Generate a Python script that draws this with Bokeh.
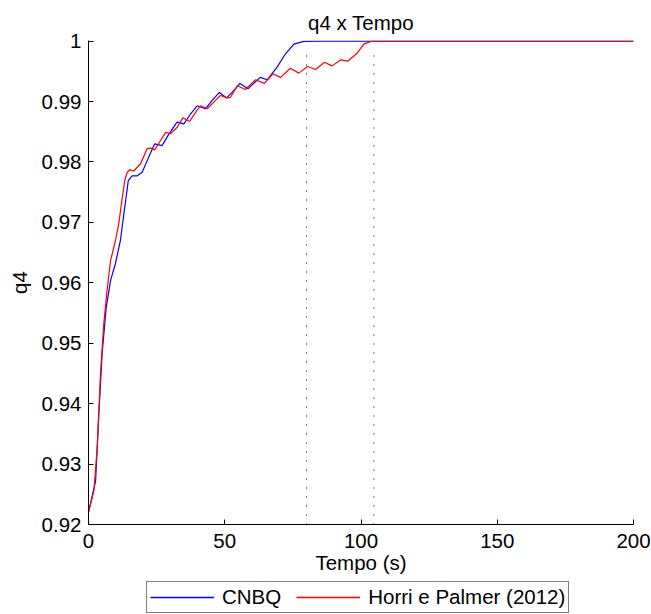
from bokeh.plotting import figure
from bokeh.models import Range1d, FixedTicker, Legend, LegendItem
from bokeh.layouts import column
from bokeh.embed import file_html
from bokeh.resources import INLINE

# ---- data ----
t_cnbq = [0, 2.6, 3.8, 5.0, 6.5, 8.1, 9.9, 11.7, 13.3, 14.6, 16.0, 17.9, 19.7,
          22.1, 24.3, 27.0, 29.5, 32.5, 35.0, 37.4, 39.9, 42.9, 45.4, 48.0,
          50.7, 53.3, 55.6, 58.5, 63.0, 65.6, 69.2, 72.3, 75.4, 79.0, 85.0, 200]
q4_cnbq = [0.9220, 0.9272, 0.9383, 0.9483, 0.9559, 0.9604, 0.9632, 0.9670,
           0.9725, 0.9769, 0.9777, 0.9777, 0.9783, 0.9808, 0.9830, 0.9827,
           0.9846, 0.9866, 0.9863, 0.9879, 0.9893, 0.9888, 0.9902, 0.9915,
           0.9906, 0.9918, 0.9930, 0.9921, 0.9940, 0.9936, 0.9957, 0.9979,
           0.9995, 0.99995, 1.0, 1.0]

t_horri = [0, 2.0, 3.2, 4.4, 5.6, 6.8, 8.1, 9.9, 11.1, 12.4, 13.3, 14.2, 15.2,
           16.6, 19.1, 21.5, 22.8, 24.3, 26.4, 28.3, 30.1, 32.5, 34.6, 37.1,
           39.3, 41.1, 43.6, 46.6, 48.4, 50.9, 52.1, 54.6, 57.6, 61.3, 64.5,
           67.7, 70.5, 74.1, 77.2, 80.4, 83.3, 86.6, 89.4, 92.6, 95.2, 98.6,
           101.0, 104.0, 110.0, 200]
q4_horri = [0.9220, 0.9256, 0.9328, 0.9449, 0.9532, 0.9587, 0.9637, 0.9670,
            0.9698, 0.9741, 0.9769, 0.9783, 0.9787, 0.9785, 0.9797, 0.9822,
            0.9823, 0.9820, 0.9835, 0.9849, 0.9847, 0.9857, 0.9873, 0.9867,
            0.9882, 0.9893, 0.9888, 0.9902, 0.9910, 0.9906, 0.9907, 0.9926,
            0.9920, 0.9936, 0.9930, 0.9946, 0.9940, 0.9955, 0.9947, 0.9958,
            0.9953, 0.9965, 0.9959, 0.9969, 0.9967, 0.9980, 0.9995, 1.0, 1.0, 1.0]

settle_t = [80.0, 104.7]
settle_q_low = [0.92, 0.92]
settle_q_high = [0.9988, 0.9988]

x_ticks = [0, 50, 100, 150, 200]
y_ticks = [0.92, 0.93, 0.94, 0.95, 0.96, 0.97, 0.98, 0.99, 1.0]
y_tick_labels = ["0.92", "0.93", "0.94", "0.95", "0.96", "0.97", "0.98", "0.99", "1"]

series_names = ["CNBQ", "Horri e Palmer (2012)"]
series_colors = ["#0000ff", "#ff0000"]
title_text = "q4 x Tempo"
x_label = "Tempo (s)"
y_label = "q4"

FONT = "Liberation Sans"
FS = "20.5px"

p = figure(width=651, height=580, output_backend="svg", toolbar_location=None,
           x_range=Range1d(0, 200), y_range=Range1d(0.92, 1.0001),
           min_border_left=88, min_border_right=18, min_border_top=40,
           min_border_bottom=56, title=title_text)

p.background_fill_color = "white"
p.border_fill_color = "white"
p.outline_line_color = None
p.xgrid.grid_line_color = None
p.ygrid.grid_line_color = None

p.title.align = "center"
p.title.text_font = FONT
p.title.text_font_size = FS
p.title.text_font_style = "normal"
p.title.text_color = "black"
p.title.standoff = 14

for ax in (p.xaxis[0], p.yaxis[0]):
    ax.major_tick_in = 5
    ax.major_tick_out = 0
    ax.minor_tick_line_color = None
    ax.axis_line_color = "black"
    ax.major_tick_line_color = "black"
    ax.major_label_text_font = FONT
    ax.major_label_text_font_size = FS
    ax.major_label_text_color = "black"
    ax.axis_label_text_font = FONT
    ax.axis_label_text_font_size = FS
    ax.axis_label_text_font_style = "normal"
    ax.axis_label_text_color = "black"

p.xaxis[0].ticker = FixedTicker(ticks=x_ticks)
p.yaxis[0].ticker = FixedTicker(ticks=y_ticks)
p.yaxis[0].major_label_overrides = {t: s for t, s in zip(y_ticks, y_tick_labels)}
p.xaxis[0].axis_label = x_label
p.yaxis[0].axis_label = y_label
p.xaxis[0].major_label_standoff = 9
p.xaxis[0].axis_label_standoff = 0
p.yaxis[0].major_label_standoff = 7
p.yaxis[0].axis_label_standoff = 8

p.line(t_cnbq, q4_cnbq, line_color=series_colors[0], line_width=1.2)
p.line(t_horri, q4_horri, line_color=series_colors[1], line_width=1.2)
p.segment(x0=settle_t, y0=settle_q_low, x1=settle_t, y1=settle_q_high,
          line_color="black", line_width=1, line_dash="1 8")

# legend strip below the axes (separate small figure without axes so it is not clipped)
pl = figure(width=651, height=34, output_backend="svg", toolbar_location=None,
            x_range=Range1d(-2, -1), y_range=Range1d(-2, -1), min_border=0,
            x_axis_location=None, y_axis_location=None)
pl.xgrid.grid_line_color = None
pl.ygrid.grid_line_color = None
pl.outline_line_color = None
pl.background_fill_color = "white"
pl.border_fill_color = "white"
lr = [pl.line(t_cnbq, q4_cnbq, line_color=series_colors[0], line_width=1.5, line_alpha=1.0),
      pl.line(t_horri, q4_horri, line_color=series_colors[1], line_width=1.5, line_alpha=1.0)]

legend = Legend(items=[LegendItem(label=n, renderers=[r]) for n, r in zip(series_names, lr)],
                location=(58, 1), orientation="horizontal")
legend.label_text_font = FONT
legend.label_text_font_size = FS
legend.label_text_color = "black"
legend.label_height = 20
legend.glyph_height = 20
legend.glyph_width = 64
legend.label_standoff = 8
legend.spacing = 15
legend.padding = 3
legend.margin = 0
legend.border_line_color = "black"
legend.border_line_width = 1
legend.background_fill_color = "white"
legend.background_fill_alpha = 1
pl.add_layout(legend, "center")

layout = column(p, pl, spacing=0)
open("out.html", "w").write(file_html(layout, INLINE))
